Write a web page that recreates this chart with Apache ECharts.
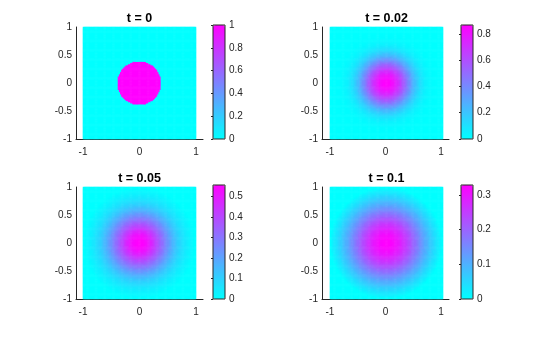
<!DOCTYPE html>
<html>
<head>
<meta charset="utf-8">
<script src="https://cdn.jsdelivr.net/npm/echarts@6/dist/echarts.min.js"></script>
<style>
html,body{margin:0;padding:0;background:#fff;}
#chart{width:560px;height:337px;}
</style>
</head>
<body>
<div id="chart"></div>
<script>
// ---------------- data ----------------
const titles = ['t = 0', 't = 0.02', 't = 0.05', 't = 0.1'];
// colour-bar upper limits (value at the centre of each field)
const cbMax = [1, 0.868, 0.556, 0.329];
// colour-bar tick labels
const cbTicksA = [0, 0.2, 0.4, 0.6, 0.8, 1];
const cbTicksB = [0, 0.2, 0.4, 0.6, 0.8];
const cbTicksC = [0, 0.1, 0.2, 0.3, 0.4, 0.5];
const cbTicksD = [0, 0.1, 0.2, 0.3];
// axis tick labels
const xTickValues = [-1, 0, 1];
const yTickValues = [-1, -0.5, 0, 0.5, 1];
const radiusStep = 0.025;
const profileT0 = [1, 1, 1, 1, 1, 1, 1, 1, 1, 1, 1, 1, 1, 1, 1, 1,
  0, 0, 0, 0, 0, 0, 0, 0, 0, 0, 0, 0, 0, 0, 0, 0, 0, 0, 0, 0, 0, 0, 0, 0, 0];
const profileT002 = [0.868, 0.865, 0.858, 0.847, 0.832, 0.813, 0.790, 0.762, 0.731, 0.696,
  0.658, 0.618, 0.577, 0.533, 0.488, 0.443, 0.397, 0.353, 0.310, 0.270,
  0.232, 0.198, 0.166, 0.139, 0.114, 0.093, 0.075, 0.059, 0.045, 0.035,
  0.026, 0.020, 0.015, 0.011, 0.008, 0.006, 0.004, 0.003, 0.002, 0.001, 0];
const profileT005 = [0.556, 0.555, 0.552, 0.547, 0.540, 0.530, 0.518, 0.503, 0.486, 0.468,
  0.449, 0.428, 0.407, 0.386, 0.365, 0.344, 0.323, 0.301, 0.280, 0.259,
  0.238, 0.217, 0.197, 0.178, 0.160, 0.143, 0.127, 0.112, 0.098, 0.086,
  0.075, 0.064, 0.055, 0.046, 0.038, 0.031, 0.024, 0.017, 0.011, 0.005, 0];
const profileT01 = [0.329, 0.329, 0.327, 0.325, 0.322, 0.318, 0.313, 0.308, 0.302, 0.295,
  0.288, 0.280, 0.272, 0.263, 0.254, 0.245, 0.235, 0.225, 0.214, 0.203,
  0.192, 0.181, 0.170, 0.159, 0.148, 0.137, 0.126, 0.115, 0.105, 0.095,
  0.085, 0.075, 0.066, 0.057, 0.048, 0.039, 0.031, 0.023, 0.015, 0.007, 0];

const profiles = [profileT0, profileT002, profileT005, profileT01];
const cbTicks = [cbTicksA, cbTicksB, cbTicksC, cbTicksD];

// ---------------- layout ----------------
const N = 100; // cells per side of the [-1,1]x[-1,1] square
const cellIdx = Array.from({length: N}, (_, i) => String(i));
const panels = [
  {img: [83, 27], axis: 76, cb: [213, 25], titleY: 19},
  {img: [330, 27], axis: 322, cb: [461, 25], titleY: 19},
  {img: [83, 187], axis: 76, cb: [213, 185], titleY: 179},
  {img: [330, 187], axis: 322, cb: [461, 185], titleY: 179}
];
const IMG_W = 113, IMG_H = 112, AXIS_W = 127, CB_W = 12, CB_H = 114;
const FONT = "'Liberation Sans', Arial, Helvetica, sans-serif";
const INK = '#262626';

function fieldData(profile) {
  const out = [];
  for (let i = 0; i < N; i++) {
    const x = -1 + (i + 0.5) * 2 / N;
    for (let j = 0; j < N; j++) {
      const y = -1 + (j + 0.5) * 2 / N;
      const k = Math.round(Math.hypot(x, y) / radiusStep);
      out.push([i, j, k < profile.length ? profile[k] : 0]);
    }
  }
  return out;
}

const grid = [], xAxis = [], yAxis = [], series = [], visualMap = [], graphic = [];

panels.forEach((p, k) => {
  // 0..3 image grids
  grid[k] = {left: p.img[0], top: p.img[1], width: IMG_W, height: IMG_H, containLabel: false};
  xAxis[k] = {type: 'category', gridIndex: k, data: cellIdx, show: false, boundaryGap: true};
  yAxis[k] = {type: 'category', gridIndex: k, data: cellIdx, show: false, boundaryGap: true};
  series.push({
    type: 'heatmap', xAxisIndex: k, yAxisIndex: k, data: fieldData(profiles[k]),
    progressive: 0, emphasis: {disabled: true}, silent: true
  });
  visualMap.push({
    type: 'continuous', seriesIndex: k, min: 0, max: cbMax[k], calculable: false,
    orient: 'vertical', left: p.cb[0], top: p.cb[1], itemWidth: CB_W, itemHeight: CB_H,
    padding: 0, hoverLink: false, inRange: {color: ['#00ffff', '#ff00ff']}
  });
});

panels.forEach((p, k) => {
  // 4..7 axis grids
  const g = 4 + k;
  const xMin = -1 - (p.img[0] - p.axis) / (IMG_W / 2);
  grid[g] = {left: p.axis, top: p.img[1], width: AXIS_W, height: IMG_H};
  xAxis[g] = {
    type: 'value', gridIndex: g, min: xMin, max: -xMin,
    axisLine: {show: true, onZero: false, lineStyle: {color: INK, width: 1}},
    axisTick: {show: false},
    splitLine: {show: false},
    axisLabel: {customValues: xTickValues, margin: 8, fontSize: 10, fontFamily: FONT, color: INK}
  };
  yAxis[g] = {
    type: 'value', gridIndex: g, min: -1, max: 1,
    axisLine: {show: true, onZero: false, lineStyle: {color: INK, width: 1}},
    axisTick: {show: false},
    splitLine: {show: false},
    axisLabel: {customValues: yTickValues, margin: 4, fontSize: 10, fontFamily: FONT, color: INK}
  };
});

panels.forEach((p, k) => {
  // 8..11 colour-bar grids
  const g = 8 + k;
  grid[g] = {left: p.cb[0], top: p.cb[1], width: CB_W, height: CB_H, show: true,
    borderColor: INK, borderWidth: 1, backgroundColor: 'transparent', z: 6};
  xAxis[g] = {type: 'value', gridIndex: g, show: false, min: 0, max: 1};
  yAxis[g] = {
    type: 'value', gridIndex: g, position: 'right', min: 0, max: cbMax[k], z: 7,
    axisLine: {show: false},
    axisTick: {show: true, inside: true, length: 2, customValues: cbTicks[k], lineStyle: {color: INK}},
    splitLine: {show: false},
    axisLabel: {customValues: cbTicks[k], margin: 4, fontSize: 10, fontFamily: FONT, color: INK}
  };
  graphic.push({
    type: 'text', x: p.img[0] + IMG_W / 2, y: p.titleY, silent: true,
    style: {text: titles[k], align: 'center', verticalAlign: 'middle',
      font: "bold 12.5px " + FONT, fill: '#000'}
  });
});

const chart = echarts.init(document.getElementById('chart'), null, {renderer: 'canvas'});
chart.setOption({
  animation: false,
  backgroundColor: '#ffffff',
  grid, xAxis, yAxis, series, visualMap, graphic
});
</script>
</body>
</html>
